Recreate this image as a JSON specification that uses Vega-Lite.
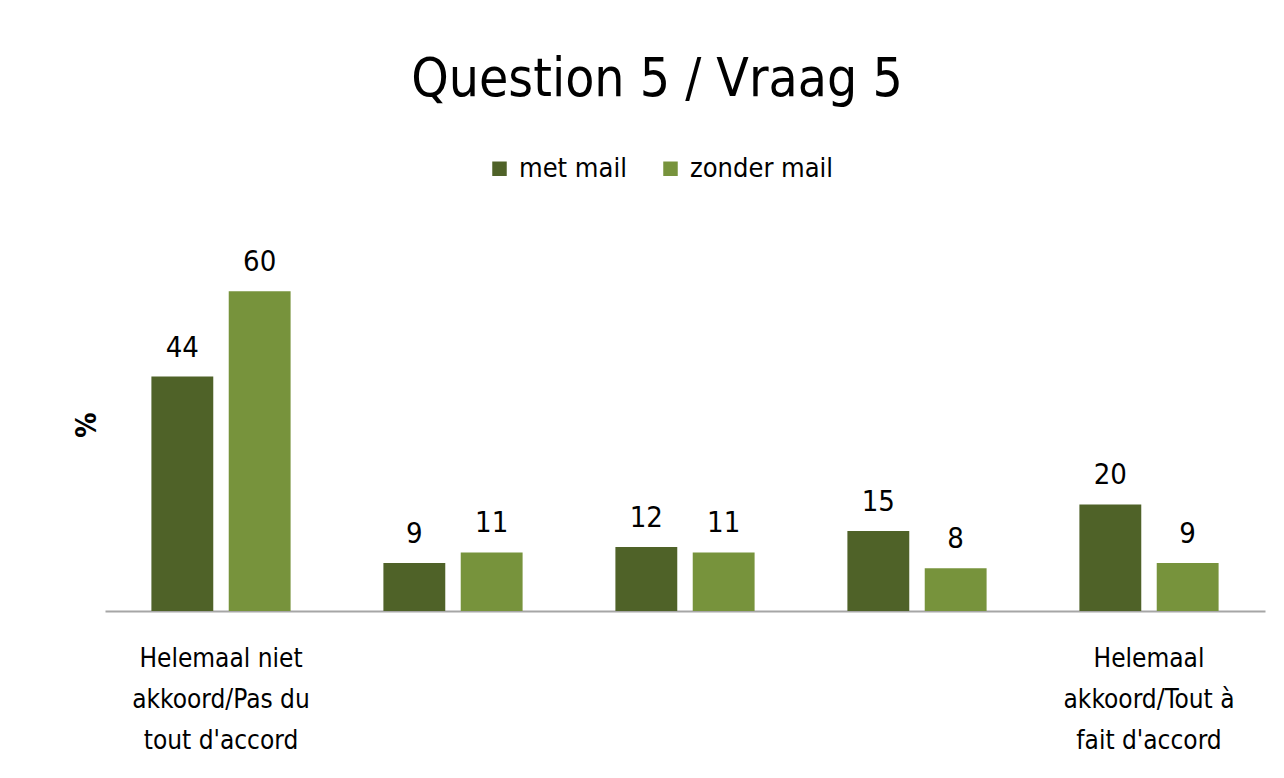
{
  "$schema": "https://vega.github.io/schema/vega-lite/v6.json",
  "autosize": {"type": "none"},
  "padding": {"left": 105, "top": 238, "right": 19, "bottom": 167},
  "width": 1160,
  "height": 373,
  "background": "white",
  "title": {
    "text": "Question 5 / Vraag 5",
    "font": "DejaVu Sans Condensed, sans-serif",
    "fontSize": 53,
    "fontWeight": "normal",
    "color": "#000000",
    "anchor": "middle",
    "dx": -28,
    "offset": 48
  },
  "config": {
    "font": "DejaVu Sans Condensed, sans-serif",
    "view": {"stroke": null},
    "axis": {"grid": false}
  },
  "data": {
    "values": [
      {"cat": "1", "series": "met mail", "value": 44},
      {"cat": "1", "series": "zonder mail", "value": 60},
      {"cat": "2", "series": "met mail", "value": 9},
      {"cat": "2", "series": "zonder mail", "value": 11},
      {"cat": "3", "series": "met mail", "value": 12},
      {"cat": "3", "series": "zonder mail", "value": 11},
      {"cat": "4", "series": "met mail", "value": 15},
      {"cat": "4", "series": "zonder mail", "value": 8},
      {"cat": "5", "series": "met mail", "value": 20},
      {"cat": "5", "series": "zonder mail", "value": 9}
    ]
  },
  "encoding": {
    "x": {
      "field": "cat",
      "type": "nominal",
      "sort": null,
      "scale": {"paddingInner": 0.4, "paddingOuter": 0.2},
      "axis": {
        "title": null,
        "labelAngle": 0,
        "ticks": false,
        "domainColor": "#A6A6A6",
        "domainWidth": 2,
        "labelFontSize": 26,
        "labelLimit": 0,
        "labelColor": "#000000",
        "labelPadding": 34,
        "labelLineHeight": 41,
        "labelBaseline": "top",
        "labelExpr": "datum.value == '1' ? ['Helemaal niet', 'akkoord/Pas du', 'tout d\\'accord'] : datum.value == '5' ? ['Helemaal', 'akkoord/Tout à', 'fait d\\'accord'] : ''"
      }
    },
    "xOffset": {"field": "series", "type": "nominal", "scale": {"paddingInner": 0.2}},
    "y": {
      "field": "value",
      "type": "quantitative",
      "scale": {"domain": [0, 70]},
      "axis": {
        "title": "%",
        "titleFontSize": 28,
        "titleFontWeight": "bold",
        "titleColor": "#000000",
        "titlePadding": 4,
        "labels": false,
        "ticks": false,
        "domain": false,
        "grid": false
      }
    }
  },
  "layer": [
    {
      "mark": {"type": "bar"},
      "encoding": {
        "color": {
          "field": "series",
          "type": "nominal",
          "scale": {"domain": ["met mail", "zonder mail"], "range": ["#4F6228", "#77933C"]},
          "legend": {
            "title": null,
            "orient": "none",
            "direction": "horizontal",
            "legendX": 381,
            "legendY": -83,
            "symbolType": "square",
            "symbolSize": 210,
            "symbolStrokeWidth": 0,
            "labelFontSize": 27,
            "labelColor": "#000000",
            "labelOffset": 6,
            "columnPadding": 30
          }
        }
      }
    },
    {
      "mark": {"type": "text", "baseline": "bottom", "dy": -14, "fontSize": 29, "color": "#000000"},
      "encoding": {
        "text": {"field": "value", "type": "quantitative"}
      }
    }
  ]
}
